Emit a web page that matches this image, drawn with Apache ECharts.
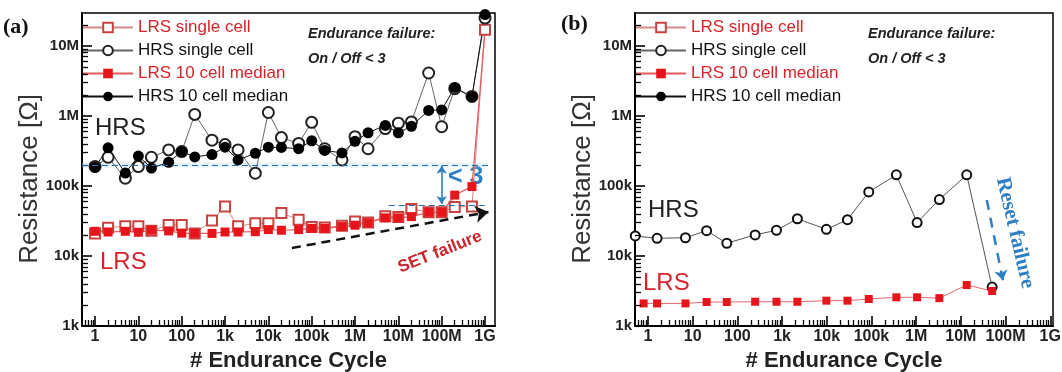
<!DOCTYPE html>
<html>
<head>
<meta charset="utf-8">
<script src="https://cdn.jsdelivr.net/npm/echarts@6/dist/echarts.min.js"></script>
<style>
  html, body { margin: 0; padding: 0; background: #fff; }
  #chart { width: 1062px; height: 372px; }
</style>
</head>
<body>
<div id="chart"></div>
<script>
// ---- Panel (a): sampled cycles (1-2-5 per decade) and resistances in ohms ----
const aCycles = [1, 2, 5, 10, 20, 50, 100, 200, 500, 1e3, 2e3, 5e3, 1e4, 2e4, 5e4, 1e5, 2e5, 5e5,
                 1e6, 2e6, 5e6, 1e7, 2e7, 5e7, 1e8, 2e8, 5e8, 1e9];
const aLrsSingle = [21e3, 25.4e3, 26.5e3, 26.5e3, 23e3, 27.7e3, 27.7e3, 21e3, 32e3, 51e3, 26.5e3, 29.3e3, 29.3e3, 41e3,
                    33e3, 26e3, 25.5e3, 27e3, 31e3, 30e3, 37e3, 36e3, 47e3, 42e3, 42e3, 50e3, 51e3, 17e6];
const aHrsSingle = [190e3, 257e3, 129e3, 189e3, 257e3, 327e3, 310e3, 1.05e6, 450e3, 390e3, 327e3, 152e3, 1.12e6, 490e3,
                    405e3, 810e3, 340e3, 235e3, 506e3, 340e3, 660e3, 787e3, 820e3, 4.1e6, 700e3, 2.45e6, 1.9e6, 25e6];
const aLrsMedian = [22.5e3, 22e3, 22.5e3, 21.8e3, 23.3e3, 22.8e3, 21.2e3, 21e3, 21e3, 22e3, 22e3, 22.2e3, 23.8e3, 23.3e3,
                    23.8e3, 24.8e3, 24.8e3, 26.3e3, 27.5e3, 29.8e3, 35e3, 35e3, 36.5e3, 42e3, 42e3, 74e3, 98e3, 17e6];
const aHrsMedian = [185e3, 350e3, 153e3, 267e3, 180e3, 218e3, 309e3, 260e3, 281e3, 358e3, 235e3, 293e3, 358e3, 355e3,
                    340e3, 442e3, 322e3, 296e3, 435e3, 575e3, 732e3, 575e3, 712e3, 1.2e6, 1.22e6, 2.55e6, 1.87e6, 28e6];

// ---- Panel (b) ----
const bCyclesHrs = [0.52, 1.6, 6.9, 20.5, 58, 250, 750, 2.2e3, 9.8e3, 2.9e4, 8.7e4, 3.6e5, 1.05e6, 3.3e6, 1.35e7, 5.0e7];
const bHrsSingle = [19.3e3, 17.9e3, 18.2e3, 23e3, 15.2e3, 20e3, 23.3e3, 34e3, 24e3, 33e3, 82e3, 144e3, 30e3, 64e3, 144e3, 3.6e3];
const bCyclesLrs = [0.8, 1.6, 6.9, 20.5, 58, 250, 750, 2.2e3, 9.8e3, 2.9e4, 8.7e4, 3.6e5, 1.05e6, 3.3e6, 1.35e7, 5.0e7];
const bLrsMedian = [2.1e3, 2.1e3, 2.1e3, 2.2e3, 2.2e3, 2.22e3, 2.22e3, 2.22e3, 2.3e3, 2.3e3, 2.43e3, 2.57e3, 2.57e3, 2.5e3, 3.85e3, 3.16e3];

// ---- Axis tick labels by decade exponent ----
const xTickLabels = ['1', '10', '100', '1k', '10k', '100k', '1M', '10M', '100M', '1G'];   // 10^0 .. 10^9
const yTickLabels = ['1k', '10k', '100k', '1M', '10M'];                                   // 10^3 .. 10^7

const seriesNames = ['LRS single cell', 'HRS single cell', 'LRS 10 cell median', 'HRS 10 cell median'];

// On/Off window levels (ohms)
const onOffHigh = 2.0e5;
const onOffLow = 5.3e4;

const FONT = '"Liberation Sans", Arial, Helvetica, sans-serif';
const SERIF = '"Liberation Serif", "Times New Roman", serif';
const RED = '#e8141b';
const RED_TEXT = '#d8232a';
const BLUE = '#2f7fc4';

const aX = { min: 0.5, max: 1.7e9 };
const bX = { min: 0.513, max: 1.15e9 };
const yR = { min: 1e3, max: 2.95e7 };

const gridA = { left: 82, top: 13, width: 413, height: 313 };
const gridB = { left: 635, top: 13, width: 418, height: 313 };

function zip(xs, ys) { return xs.map((x, i) => [x, ys[i]]); }

function decadeLabel(table, firstExp) {
  return function (v) {
    const l = Math.log10(v);
    const e = Math.round(l);
    if (Math.abs(l - e) > 0.01) return '';
    return table[e - firstExp] || '';
  };
}

// 2..9 x 10^k values strictly inside (lo, hi)
function minorValues(lo, hi) {
  const out = [];
  for (let k = -2; k <= 10; k++) {
    for (let m = 2; m <= 9; m++) {
      const v = m * Math.pow(10, k);
      if (v > lo * 1.0001 && v < hi * 0.9999) out.push(v);
    }
  }
  return out;
}

// Logarithmic minor ticks as short segments standing on both axis lines (length in px)
function minorTickLines(xr, yr, grid, len) {
  const xDecPerPx = (Math.log10(xr.max) - Math.log10(xr.min)) / grid.width;
  const yDecPerPx = (Math.log10(yr.max) - Math.log10(yr.min)) / grid.height;
  const yTip = yr.min * Math.pow(10, len * yDecPerPx);
  const xTip = xr.min * Math.pow(10, len * xDecPerPx);
  const lines = [];
  minorValues(xr.min, xr.max).forEach(v => lines.push([{ coord: [v, yr.min] }, { coord: [v, yTip] }]));
  minorValues(yr.min, yr.max).forEach(v => lines.push([{ coord: [xr.min, v] }, { coord: [xTip, v] }]));
  return {
    silent: true, animation: false, label: { show: false }, symbol: ['none', 'none'],
    emphasis: { disabled: true },
    lineStyle: { color: '#000', type: 'solid', width: 1.3 },
    data: lines
  };
}

function xAxisFor(gridIdx, range) {
  return {
    type: 'log', logBase: 10, gridIndex: gridIdx, min: range.min, max: range.max, splitNumber: 10,
    axisLine: { show: true, onZero: false, lineStyle: { color: '#000', width: 2 } },
    axisTick: { inside: true, length: 10, lineStyle: { color: '#000', width: 1.6 } },
    axisLabel: { formatter: decadeLabel(xTickLabels, 0), showMinLabel: false, showMaxLabel: false,
                 margin: 3, fontSize: 16, fontWeight: 'bold', color: '#222', fontFamily: FONT },
    splitLine: { show: false },
    name: '# Endurance Cycle', nameLocation: 'middle', nameGap: 23,
    nameTextStyle: { fontSize: 22, fontWeight: 'bold', color: '#222', fontFamily: FONT }
  };
}

function yAxisFor(gridIdx) {
  return {
    type: 'log', logBase: 10, gridIndex: gridIdx, min: yR.min, max: yR.max, splitNumber: 10,
    axisLine: { show: true, onZero: false, lineStyle: { color: '#000', width: 2 } },
    axisTick: { inside: true, length: 10, lineStyle: { color: '#000', width: 1.6 } },
    axisLabel: { formatter: decadeLabel(yTickLabels, 3), showMinLabel: true, showMaxLabel: false,
                 margin: 3, fontSize: 15, fontWeight: 'bold', color: '#222', fontFamily: FONT },
    splitLine: { show: false }
  };
}

function legendFor(left) {
  return {
    left: left, top: 19, orient: 'vertical', padding: 0, itemGap: 6,
    itemWidth: 50, itemHeight: 12, selectedMode: false,
    textStyle: { fontSize: 17, fontFamily: FONT, color: '#111' },
    data: seriesNames.map(n => ({ name: n, textStyle: { color: n.startsWith('LRS') ? RED_TEXT : '#111' } }))
  };
}

// The last median point coincides with the single-cell reading; only its line segment is drawn.
const aLrsMedianData = zip(aCycles, aLrsMedian).map((p, i) =>
  i === aLrsMedian.length - 1 ? { value: p, symbol: 'none' } : p);

const gridStyle = { show: true, borderColor: '#000', borderWidth: 1.5, containLabel: false, outerBoundsMode: 'none' };

const option = {
  animation: false,
  backgroundColor: '#fff',
  grid: [Object.assign({}, gridA, gridStyle), Object.assign({}, gridB, gridStyle)],
  xAxis: [xAxisFor(0, aX), xAxisFor(1, bX)],
  yAxis: [yAxisFor(0), yAxisFor(1)],
  legend: [legendFor(82), legendFor(635)],
  series: [
    // ---- panel (a) ----
    {
      name: seriesNames[0], type: 'line', xAxisIndex: 0, yAxisIndex: 0,
      data: zip(aCycles, aLrsSingle), symbol: 'emptyRect', symbolSize: 10,
      itemStyle: { color: '#c8433f', borderWidth: 1.2 }, lineStyle: { color: '#d98a88', width: 1 },
      markArea: {
        silent: true, itemStyle: { color: 'rgba(185,222,245,0.35)' },
        data: [[{ coord: [aX.min, onOffHigh * 0.92] }, { coord: [1.2e9, onOffHigh * 1.08] }]]
      },
      markLine: minorTickLines(aX, yR, gridA, 6)
    },
    {
      name: seriesNames[1], type: 'line', xAxisIndex: 0, yAxisIndex: 0,
      data: zip(aCycles, aHrsSingle), symbol: 'emptyCircle', symbolSize: 11,
      itemStyle: { color: '#222', borderWidth: 1.2 }, lineStyle: { color: '#666', width: 1 }
    },
    {
      name: seriesNames[2], type: 'line', xAxisIndex: 0, yAxisIndex: 0,
      data: aLrsMedianData, symbol: 'rect', symbolSize: 9,
      itemStyle: { color: RED }, lineStyle: { color: '#e05a5e', width: 1.2 }
    },
    {
      name: seriesNames[3], type: 'line', xAxisIndex: 0, yAxisIndex: 0,
      data: zip(aCycles, aHrsMedian), symbol: 'circle', symbolSize: 11,
      itemStyle: { color: '#000' }, lineStyle: { color: '#111', width: 1 },
      markLine: {
        silent: true, animation: false, label: { show: false }, symbol: ['none', 'none'],
        data: [
          [{ coord: [aX.min, onOffHigh], lineStyle: { color: '#2a6aa6', type: [6, 4], width: 1.2 } },
           { coord: [1.2e9, onOffHigh] }],
          [{ coord: [6e6, onOffLow], lineStyle: { color: '#2a6aa6', type: [6, 4], width: 1.2 } },
           { coord: [1.1e9, onOffLow] }],
          [{ coord: [1e8, onOffHigh * 0.97], symbol: 'arrow', symbolSize: 8,
             lineStyle: { color: BLUE, type: 'solid', width: 1.6 } },
           { coord: [1e8, onOffLow * 1.04], symbol: 'arrow', symbolSize: 8 }],
          [{ coord: [3.5e4, 1.3e4], symbol: 'none',
             lineStyle: { color: '#111', type: [9, 6], width: 2.5, curveness: -0.06 } },
           { coord: [1.2e9, 4.25e4], symbol: 'arrow', symbolSize: 13 }]
        ]
      }
    },
    // ---- panel (b) ----
    {
      name: seriesNames[1], type: 'line', xAxisIndex: 1, yAxisIndex: 1,
      data: zip(bCyclesHrs, bHrsSingle), symbol: 'emptyCircle', symbolSize: 9,
      itemStyle: { color: '#111', borderWidth: 2 }, lineStyle: { color: '#555', width: 1 },
      markLine: {
        silent: true, animation: false, label: { show: false }, symbol: ['none', 'none'],
        data: [
          [{ coord: [3.8e7, 6.3e4], symbol: 'none', lineStyle: { color: BLUE, type: [10, 8], width: 2.5 } },
           { coord: [8.7e7, 4.5e3], symbol: 'arrow', symbolSize: 10 }]
        ]
      }
    },
    {
      name: seriesNames[2], type: 'line', xAxisIndex: 1, yAxisIndex: 1,
      data: zip(bCyclesLrs, bLrsMedian), symbol: 'rect', symbolSize: 8,
      itemStyle: { color: RED }, lineStyle: { color: '#e06a6e', width: 1 },
      markLine: minorTickLines(bX, yR, gridB, 6)
    }
  ],
  graphic: [
    { type: 'text', x: 3, y: 27, style: { text: '(a)', font: 'bold 22px ' + SERIF, fill: '#111', verticalAlign: 'middle' } },
    { type: 'text', x: 561, y: 24, style: { text: '(b)', font: 'bold 22px ' + SERIF, fill: '#111', verticalAlign: 'middle' } },
    { type: 'text', x: 30, y: 179, rotation: Math.PI / 2, style: { text: 'Resistance [Ω]', font: '26px ' + FONT, fill: '#333', align: 'center', verticalAlign: 'middle' } },
    { type: 'text', x: 583, y: 179, rotation: Math.PI / 2, style: { text: 'Resistance [Ω]', font: '26px ' + FONT, fill: '#333', align: 'center', verticalAlign: 'middle' } },
    { type: 'text', x: 308, y: 21, style: { text: 'Endurance failure:\nOn / Off < 3', font: 'italic bold 14.5px ' + FONT, lineHeight: 25, fill: '#222', verticalAlign: 'top' } },
    { type: 'text', x: 868, y: 21, style: { text: 'Endurance failure:\nOn / Off < 3', font: 'italic bold 14.5px ' + FONT, lineHeight: 25, fill: '#222', verticalAlign: 'top' } },
    { type: 'text', x: 95, y: 128, style: { text: 'HRS', font: '24px ' + FONT, fill: '#222', verticalAlign: 'middle' } },
    { type: 'text', x: 100, y: 262, style: { text: 'LRS', font: '24px ' + FONT, fill: RED_TEXT, verticalAlign: 'middle' } },
    { type: 'text', x: 648, y: 210, style: { text: 'HRS', font: '24px ' + FONT, fill: '#222', verticalAlign: 'middle' } },
    { type: 'text', x: 643, y: 283, style: { text: 'LRS', font: '24px ' + FONT, fill: RED_TEXT, verticalAlign: 'middle' } },
    { type: 'text', x: 448, y: 177, style: { text: '< 3', font: 'bold 25px ' + FONT, fill: BLUE, verticalAlign: 'middle' } },
    { type: 'text', x: 440, y: 252, rotation: 0.38, style: { text: 'SET failure', font: 'bold 17px ' + FONT, fill: '#c9232b', align: 'center', verticalAlign: 'middle' } },
    { type: 'text', x: 1015, y: 233, rotation: -1.34, style: { text: 'Reset failure', font: 'bold 21px ' + SERIF, fill: BLUE, align: 'center', verticalAlign: 'middle' } }
  ]
};

const chart = echarts.init(document.getElementById('chart'), null, { renderer: 'canvas' });
chart.setOption(option);
</script>
</body>
</html>
